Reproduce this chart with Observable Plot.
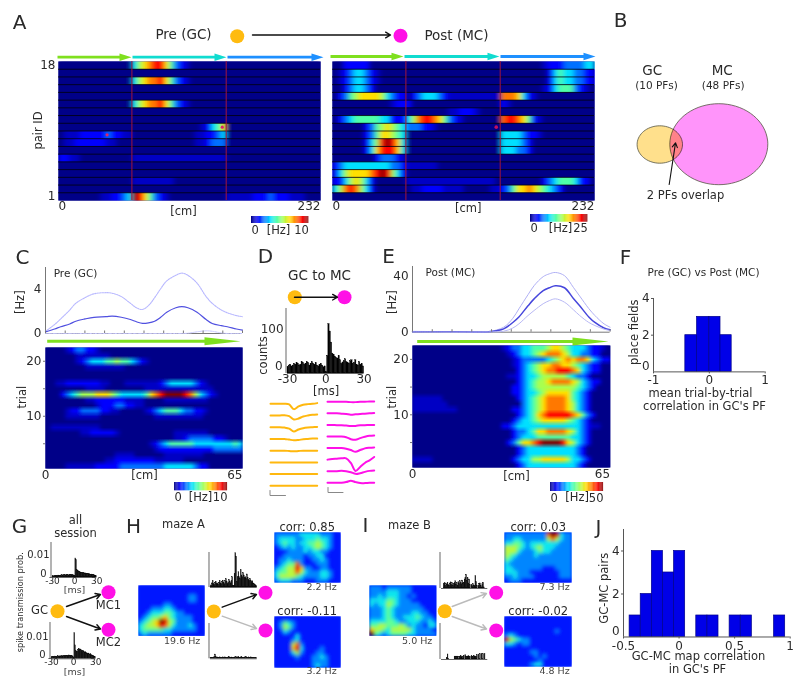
<!DOCTYPE html>
<html><head><meta charset="utf-8">
<script src="https://cdn.jsdelivr.net/npm/d3@7"></script>
<script src="https://cdn.jsdelivr.net/npm/@observablehq/plot@0.6"></script>
<style>
html,body{margin:0;padding:0;background:#fff}
#fig{position:relative;width:800px;height:686px;overflow:hidden;font-family:"DejaVu Sans",sans-serif}
#fig svg{position:absolute;background:transparent;overflow:visible;max-width:none}
#fig svg image{image-rendering:auto}
</style></head><body>
<svg width="0" height="0" style="position:absolute"><defs>
<filter id="softX" x="0" y="0" width="1" height="1"><feGaussianBlur stdDeviation="2.2 0" edgeMode="duplicate"/></filter>
<filter id="softT" x="0" y="0" width="1" height="1"><feGaussianBlur stdDeviation="1.8 .7" edgeMode="duplicate"/></filter>
<filter id="softM" x="0" y="0" width="1" height="1"><feGaussianBlur stdDeviation="1.6 1.5" edgeMode="duplicate"/></filter>
</defs></svg>
<div id="fig"></div>
<script>
// ---------- heat-map data: each row is [startBin,"levels",...]; '.'=0, '0'=half a level, 1-9 levels of the jet bar
const pairIdsPre = [
 [14,"35678864210"],[],[14,"35677864210"],[],[],[14,"35677864210"],[],[],
 [27,"01346"],[1,"0001111121100",26,"001123"],[1,"0011111100",26,"001222"],[],
 [0,"1100",14,"000000000000000000"],[],[],[14,"00000000"],[],
 [8,"001123",14,"986421",20,"0",32,"000001112111000"]];
const pairIdsPost = [
 [2,"11111",40,"0111222233"],[1,"01233210",41,"134332211"],[1,"01233210",41,"134332211"],
 [2,"123321",40,"013444210"],[1,"1245666653211",15,"1233321",22,"0000000000",32,"7776310"],
 [11,"0111",32,"10"],[22,"001110"],[1,"1234444433111",14,"35788764210",32,"78876410"],
 [6,"12456543222110"],[6,"12466543",32,"33332110"],[6,"13589863",32,"333321"],[6,"13688863",32,"333221"],
 [8,"122210"],[0,"12333333333221",14,"000000"],[0,"13566667898531"],
 [0,"11356531",14,"00000000000000000",40,"123444311"],[0,"35787531",15,"0011110000",30,"00",32,"124667654321"],[]];
const trialsPre = [
 [4,"0122110"],[6,"0000000"],[6,"012333445443210"],[8,"00000000"],[],[],
 [2,"00111111100",16,"0000000",23,"1233333210"],[8,"0000",20,"00000000000000"],
 [3,"12345556665433333467899998753210"],[8,"001111110000",24,"000000000"],[10,"0111221100"],
 [4,"01122221100",20,"0123444322110"],[4,"0000000",22,"0000000000"],[],[1,"0000000000"],
 [7,"00111110",26,"0000000"],[26,"00122222110"],[21,"0123444443333333343"],[22,"011111111111222222"],
 [14,"0000",24,"00000000"],[12,"0011111111000000"],[4,"00000011111222222222333333211"]];
const trialsPost = [
 [18,"012233444566543332110"],[19,"0123345677765332211"],[20,"01222223456767763211"],[20,"012345667766543211"],
 [21,"12345677888763211"],[19,"00123345555543221"],[21,"12345567777653211"],[20,"11234555555554321"],
 [20,"1123345666664321"],[0,"000000",21,"123456777764321"],[0,"0000000",22,"23456777765321"],
 [0,"000000000",20,"1123456777765321"],[21,"1234678888876421"],[20,"1233456666654321"],[18,"11233333333333332100"],
 [20,"1223466777765321"],[20,"1233344444443321"],[19,"12466789999865321"],[21,"12333333333321"],[21,"12333333333321"],
 [0,"0000",20,"1233556666653321"],[21,"12333333333321"]];
// place-field maps, 16 x 12 cells, jet levels
const mapA = ["1111111111111111","1111111111111111","1111111111112211","1111111111112211","1111112211111111","1112223321111111","1123334432211111","1234456432222111","2345698542222111","3455687532223211","3444443322222211","2322222211111111"];
const mapAMC1 = ["2222223333322211","2333322333433211","2343323344543211","1232322334543211","1112222323322111","1122222122331111","1223222112232111","1234472111222111","2345586221122111","3445575322233211","3555543222233211","2333222111222111"];
const mapAMC2 = ["1111111111111111","1243211111111111","1254211111111111","1132111111111111","1111131111111111","1111231111111111","1111572111111111","1111683111121111","1111352111221111","1111121112232111","1111111112222111","1111111112322111"];
const mapB = ["2221222222111111","2222333222111111","2232333221211111","3333443222111111","3233543222221111","2223432222222111","2223432222332211","2223432233343221","3333443223332232","4455444542322133","6554355555322221","9432344443322222"];
const mapBMC1 = ["2222222222798322","2233222222575322","3344323333333222","5554323453332222","5553222343322222","5432222322222222","4322222222222222","3222222222222222","3322222221112222","3332221111111222","2232222111111222","1222111111111111"];
const mapBMC2 = ["1111111111111111","1111111111111111","1111111111111111","1111111111112111","2321111111111111","8543221111111111","3321221111111111","1111111111111111","1111112211111111","1111111212111111","1111111121111111","1111112331111111"];
// mean firing rate curves
const cmC = [0,3,5,8,10,13,16,20,22,25,28,30,32,34,36,38,40,43,45,47,50,53,55,58,60,63,65];
const preMean = [.15,.4,.6,.85,1.1,1.3,1.45,1.5,1.55,1.45,1.25,1.05,.9,.95,1.1,1.45,1.9,2.3,2.4,2.3,1.9,1.25,.9,.7,.6,.4,.3];
const preUpper = [.2,.8,1.3,2.1,2.7,3.2,3.55,3.65,3.6,3.3,2.7,2.3,2.15,2.5,3.2,4,4.7,5.2,5.4,5.2,4.5,3.3,2.7,2.1,1.85,1.6,1.5];
const preLower = [0,0,0,0,0,0,0,0,0,0,0,0,0,0,0,0,0,0,0,.02,.15,.24,.2,.05,0,0,0];
const cmE = [0,10,20,25,30,33,35,38,40,43,45,47,50,53,55,58,60,63,65];
const postMean = [.4,.3,.2,.3,2.4,7,11,19,24,30,32,33.5,32,24,19,11,7,3,1.7];
const postUpper = [.6,.4,.3,.4,3.6,10,16.8,27,33.5,40,42,43,40.7,32,26,17,12,6,3.6];
const postLower = [.2,.1,.1,.2,.7,3,6,12,15.6,20.5,22.7,24,21.6,16,12,7,4.8,2.2,1.2];
// cross-correlograms, 60 one-ms bins from -30 to 30
const ccgD = [14,18,20,16,18,22,20,24,22,18,20,26,24,20,22,26,24,18,22,26,22,20,24,18,16,20,22,18,14,16,4,40,112,95,70,45,42,38,35,34,40,30,22,25,28,32,26,24,22,28,30,22,24,30,20,18,26,20,22,16];
const ccgMC1 = [.0004,.0006,.0005,.0007,.0006,.0008,.0006,.0007,.0009,.0008,.0007,.0009,.0008,.001,.0009,.0008,.001,.0011,.0009,.001,.0012,.001,.0009,.0011,.001,.0012,.0011,.0009,.001,.0008,.0008,.0085,.0078,.0035,.003,.0028,.0025,.0024,.0022,.002,.0021,.002,.0018,.0019,.0017,.0018,.0016,.0017,.0015,.0014,.0015,.0013,.0012,.0013,.0012,.001,.0011,.0009,.0008,.0006];
const ccgMC2 = [.0006,.0007,.0009,.0008,.0007,.001,.0009,.0008,.001,.0011,.0009,.001,.0012,.001,.0011,.0012,.001,.0013,.0012,.0011,.0013,.0014,.0012,.0013,.0015,.0012,.0014,.0013,.0012,.001,.0005,.0115,.006,.0035,.003,.0032,.0038,.0045,.004,.0042,.0038,.0035,.0032,.0036,.003,.0028,.003,.0026,.0024,.0022,.0024,.002,.0018,.002,.0016,.0015,.0013,.0012,.001,.0008];
const ccgA1 = [.02,.06,.12,.18,.1,.08,.14,.16,.1,.12,.08,.14,.18,.12,.1,.16,.2,.14,.1,.18,.24,.16,.1,.14,.22,.16,.12,.2,.3,.05,.05,.4,1,.9,.15,.3,.45,.3,.25,.5,.35,.3,.42,.35,.28,.3,.25,.38,.28,.22,.2,.25,.18,.15,.18,.12,.1,.08,.06,.04];
const ccgA2 = [.02,.03,.03,.02,.03,.06,.12,.05,.03,.04,.03,.03,.04,.03,.02,.03,.04,.03,.03,.04,.03,.02,.03,.04,.05,.03,.03,.04,.03,.02,.03,.04,.03,.05,.03,.04,.06,.03,.03,.04,.05,.03,.02,.03,.04,.03,.05,.03,.02,.04,.03,.03,.04,.03,.02,.03,.02,.02,.03,.02];
const ccgB1 = [0,0,0,.12,.15,.08,.14,.1,.16,.1,.08,.14,.17,.1,.15,.07,.12,.15,.2,.1,.16,.08,.18,.12,.2,.15,.12,.22,.14,.16,.25,.3,.38,.2,.3,.14,.25,.1,0,.1,.06,.12,.08,.06,.35,.18,.08,0,.08,.12,.14,.08,.03,.12,.16,.03,0,0,0,0];
const ccgB2 = [0,0,0,0,0,0,0,.04,.14,.02,0,0,0,0,0,0,0,.08,.08,.08,.08,.08,0,.06,.08,.1,.08,.04,.08,.1,0,.12,.06,.08,.08,.1,.06,.08,0,.1,.08,.08,.1,.08,.06,.08,.12,0,.14,0,.15,0,.15,0,.15,0,.15,0,0,0];
// histograms
const edgesF = [-.43,-.22,0,.2,.4];
const countsF = [2,3,3,2];
const startsJ = [-.445,-.345,-.245,-.145,-.045,.155,.255,.455,.555,.855];
const countsJ = [1,2,4,3,4,1,1,1,1,1];
// spike waveforms (offset below baseline)
const waveGC = [[0,0,0,0,2,16,8,3,1,0,-2],[0,0,0,-1,2,12,9,3,0,-2,-3],[0,0,0,1,4,13,7,3,1,0,-1],[0,0,0,0,2,4,3,1,0,-1,-1],[0,0,0,0,1,2,1,0,0,0,0],[0,0,0,0,0,0,0,0,0,0,0],[0,0,0,0,0,0,0,0,0,0,0],[0,0,0,0,0,0,0,0,0,0,0]];
const waveMC = [[0,0,0,0,0,1,1,0,0,-1,-1],[0,0,0,1,2,4,3,2,1,0,-1],[0,0,1,1,2,3,3,1,1,0,0],[0,0,0,0,2,8,10,5,1,-2,-3],[0,0,0,0,2,6,11,6,1,-1,-2],[0,-2,-3,-4,-4,10,34,22,10,2,-8],[0,0,0,-1,0,3,8,6,2,-1,-2],[0,0,0,0,-2,-6,-2,1,1,0,0]];

// ---------- helpers
const fig = document.getElementById("fig");
const M = 40, FONT = '"DejaVu Sans",sans-serif', INK = "#2a2a2a";
const JET_T = [0,1/9,2/9,3/9,4/9,5/9,6/9,7/9,8/9,1];
const JET_C = ["#000088","#0000ff","#0070ff","#00e0ff","#50ffa8","#a8ff50","#ffe000","#ff7800","#ff0000","#800000"];
const jet = max => ({type:"linear",domain:JET_T.map(t=>t*max),range:JET_C});
const lev = c => c==="." ? 0 : c==="0" ? .5 : +c;
function expand(spec,n){const a=new Array(n).fill(0);for(let i=0;i<spec.length;i+=2){[...spec[i+1]].forEach((c,j)=>{if(spec[i]+j<n)a[spec[i]+j]=lev(c)})}return a}
function panel(x,y,w,h,o,soft){
  const p = Plot.plot({width:w+2*M,height:h+2*M,margin:M,style:{fontFamily:FONT,color:INK},...o});
  p.style.left=(x-M)+"px";p.style.top=(y-M)+"px";
  if(soft)p.querySelectorAll("image").forEach(im=>im.style.filter=`url(#${soft})`);
  fig.append(p);return p;
}
const ax = (o)=>({label:null,tickSize:0,tickPadding:1,fontSize:12,...o});
function stripHeat(rows,x,w,maxHz,xMax,lines){
  const n=50,N=rows.length;
  panel(x,61,w,139,{
    x:{domain:[0,xMax],axis:null},y:{domain:[.5,N+.5],axis:null},color:jet(maxHz),
    marks:[
      Plot.frame({fill:"#000088",stroke:"none"}),
      ...rows.map((r,i)=>Plot.raster(expand(r,n).map(v=>v/9*maxHz),{width:n,height:1,x1:0,x2:xMax,y1:N-i+.5,y2:N-i-.5,fill:d=>d,imageRendering:"auto"})),
      Plot.ruleY(d3.range(1,N).map(k=>k+.5),{stroke:"#000",strokeWidth:.75}),
      Plot.ruleX(lines,{stroke:"#a0143c",strokeWidth:1}),
      Plot.axisX(ax({ticks:[0],textAnchor:"start"})),
      Plot.axisX(ax({ticks:[xMax],textAnchor:"end"}))
    ]},"softX");
}
function trialHeat(rows,x,y,w,h,maxHz){
  const n=40,N=rows.length,vals=rows.flatMap(r=>expand(r,n).map(v=>v/9*maxHz));
  panel(x,y,w,h,{
    x:{domain:[0,65],axis:null},y:{domain:[.5,N+.5],axis:null},color:jet(maxHz),
    marks:[
      Plot.frame({fill:"#000088",stroke:"none"}),
      Plot.raster(vals,{width:n,height:N,x1:0,x2:65,y1:N+.5,y2:.5,fill:d=>d,imageRendering:"auto"}),
      Plot.axisY(ax({ticks:[5,10,15,20],tickSize:2,tickPadding:2,tickFormat:d=>d%10?"":d,stroke:"#777"})),
      Plot.axisX(ax({ticks:[0],tickPadding:2})),
      Plot.axisX(ax({ticks:[65],textAnchor:"end",tickPadding:2}))
    ]},"softT");
}
function bar(x,y,w,h,max){
  const s=max/64;
  panel(x,y,w,h,{x:{domain:[0,max],axis:null},y:{axis:null},color:jet(max),marks:[
    Plot.rect(d3.range(0,max-s/2,s),{x1:d=>d,x2:d=>d+s*1.1,fill:d=>d}),
    Plot.axisX(ax({ticks:[0],textAnchor:"start",tickPadding:2,fontSize:11.5})),
    Plot.axisX(ax({ticks:[max],textAnchor:"end",tickPadding:2,fontSize:11.5}))
  ]});
}
function map(rows,x,y,w,h){
  panel(x,y,w,h,{x:{domain:[0,16],axis:null},y:{domain:[0,12],axis:null},color:jet(9),marks:[
    Plot.frame({fill:"#0020ff",stroke:"none"}),
    Plot.raster(rows.flatMap(r=>[...r].map(c=>+c+.2)),{width:16,height:12,x1:0,x2:16,y1:12,y2:0,fill:d=>d,imageRendering:"auto"})
  ]},"softM");
}
function ccg(vals,x,y,w,h,yMax,extra=[]){
  panel(x,y,w,h,{x:{domain:[-30,30],axis:null},y:{domain:[0,yMax],axis:null},marks:[
    Plot.rectY(vals,{x1:(d,i)=>i-30,x2:(d,i)=>i-29,y:d=>d,fill:"#000",stroke:"#000",strokeWidth:.3}),
    Plot.ruleX([-30],{dx:-1.5,stroke:"#666"}),
    Plot.ruleY([0],{stroke:"#666"}),
    ...extra
  ]});
}
function rates(cm,series,x,y,w,h,yMax,yTicks,yFmt){
  panel(x,y,w,h,{x:{domain:[0,65],axis:null},y:{domain:[0,yMax],axis:null},marks:[
    Plot.ruleY([0],{stroke:"#777"}),Plot.ruleX([0],{stroke:"#777"}),
    ...series.map(s=>Plot.line(s.v,{x:(d,i)=>cm[i],y:d=>d,stroke:s.c,strokeWidth:s.w,strokeDasharray:s.d,curve:"catmull-rom"})),
    Plot.axisX({ticks:d3.range(0,66,6.5),tickSize:-2.5,tickFormat:()=>"",label:null,stroke:"#777"}),
    Plot.axisY({ticks:yTicks,tickFormat:yFmt,tickSize:0,tickPadding:4,label:null,fontSize:12})
  ]});
}
const plain = d => String(d);
function hist(x,y,w,h,xd,yd,bars,xt,yt){
  panel(x,y,w,h,{x:{domain:xd,axis:null},y:{domain:yd,axis:null},marks:[
    Plot.rectY(bars,{x1:"a",x2:"b",y:"c",fill:"#0000e8",stroke:"#00008a",strokeWidth:.7}),
    Plot.ruleX([xd[0]],{stroke:"#555"}),Plot.ruleY([0],{stroke:"#555"}),
    Plot.axisX({ticks:xt,tickFormat:plain,tickSize:2,tickPadding:2,label:null,fontSize:12,stroke:"#555"}),
    Plot.axisY({ticks:yt.slice(1),tickFormat:plain,tickSize:2,tickPadding:2,label:null,fontSize:12,stroke:"#555"}),
    Plot.axisY({ticks:[0],tickFormat:plain,tickSize:0,tickPadding:4,dy:-6,label:null,fontSize:12})
  ]});
}

// ---------- panels
stripHeat(pairIdsPre,58,262,10,232,[65,148.5]);
stripHeat(pairIdsPost,332,262,25,232,[65,148.5]);
panel(58,61,262,139,{x:{domain:[0,232],axis:null},y:{domain:[.5,18.5],axis:null},marks:[
  Plot.axisY(ax({ticks:[1,18],tickPadding:3})),
  Plot.dot([{x:43,y:9},{x:145,y:10}],{x:"x",y:"y",r:1.6,fill:"#e0206a"})]});
panel(332,61,262,139,{x:{domain:[0,232],axis:null},y:{domain:[.5,18.5],axis:null},marks:[
  Plot.dot([{x:145,y:10}],{x:"x",y:"y",r:1.8,fill:"#c01060"})]});
bar(250.7,215.7,57.3,7,10);
bar(529.7,214,57.3,7.7,25);

rates(cmC,[{v:preUpper,c:"#b8b8ff",w:1.1,d:"1.5,1"},{v:preMean,c:"#5050e0",w:1.2},{v:preLower,c:"#c8c8ff",w:1,d:"1.5,1"}],45,267,197,66,5.9,[0,2,4],d=>d===2?"":d);
trialHeat(trialsPre,45,347,197,121,10);
bar(174.3,481.7,53,8.3,10);

rates(cmE,[{v:postUpper,c:"#b0b0f4",w:1},{v:postMean,c:"#4646dc",w:1.5},{v:postLower,c:"#b8b8f4",w:1}],411.7,266,197.6,65.7,47.3,[0,20,40],d=>d===20?"":d);
trialHeat(trialsPost,411.7,345,197.6,122,50);
bar(550.3,481.7,53,9,50);

ccg(ccgD,286.7,308.3,76.6,65,147,[
  Plot.axisX({ticks:[-30,0,30],tickFormat:plain,tickSize:0,tickPadding:1,label:null,fontSize:12}),
  Plot.axisY({ticks:[100],tickSize:0,tickPadding:4,label:null,fontSize:12}),
  Plot.axisY({ticks:[0],tickFormat:plain,tickSize:0,tickPadding:5,dy:-7,label:null,fontSize:12})]);
// waveforms
const traces = (w,group)=>w.flatMap((t,k)=>t.map((v,i)=>({i,k,group,v})));
panel(270,398,46.7,100,{x:{domain:[0,10],axis:null},y:{domain:[100,0],axis:null},marks:[
  Plot.line(traces(waveGC,"GC"),{x:"i",y:d=>5.3+d.k*11.72+d.v/3,z:"k",stroke:"#ffb80e",strokeWidth:2,curve:"catmull-rom"})]});
panel(326.7,398,46.7,100,{x:{domain:[0,10],axis:null},y:{domain:[100,0],axis:null},marks:[
  Plot.line(traces(waveMC,"MC"),{x:"i",y:d=>3.3+d.k*11.57+d.v/3,z:"k",stroke:"#ff10e8",strokeWidth:2,curve:"catmull-rom"})]});

hist(653.3,298.3,111.7,73.4,[-1,1],[0,4],countsF.map((c,i)=>({a:edgesF[i],b:edgesF[i+1],c})),[-1,0,1],[0,2,4]);
hist(623.3,528.5,166.7,107.5,[-.5,1],[0,5],countsJ.map((c,i)=>({a:startsJ[i],b:startsJ[i]+.1,c})),[-.5,0,.5,1],[0,2,4]);

const ccgTicks=[Plot.axisX({ticks:[-30,0,30],tickFormat:plain,tickSize:0,tickPadding:0,label:null,fontSize:9})];
const probAxis=[Plot.axisY({ticks:[.01],tickFormat:()=>"0.01",tickSize:0,tickPadding:3,label:null,fontSize:10}),
  Plot.axisY({ticks:[0],tickFormat:()=>"0",tickSize:0,tickPadding:6,dy:-4,label:null,fontSize:10})];
ccg(ccgMC1,51.7,541.7,44.3,35,.0156,[...ccgTicks,...probAxis]);
ccg(ccgMC2,50.5,622,44.3,36.3,.0162,[...ccgTicks,...probAxis]);
ccg(ccgA1,210,551.7,46.7,35,1.02);
ccg(ccgA2,210,623,46.7,35.3,1);
ccg(ccgB1,441,551.7,46.3,36,1);
ccg(ccgB2,441,623,46.3,36,1);

map(mapA,138,584.7,66,50.3);
map(mapAMC1,274,532,66,50);
map(mapAMC2,274,616,66,51);
map(mapB,369,584.7,66.7,50.3);
map(mapBMC1,504,532,67,50);
map(mapBMC2,504,616,67,50);

// ---------- schematic overlay: labels, nodes and arrows share a page-sized frame
const ORANGE="#ffbb10",MAGENTA="#ff10e6";
const T=(rows,size,o={})=>Plot.text(rows,{x:d=>d[1],y:d=>d[2],text:d=>d[0],rotate:d=>d[3]||0,fontSize:size,fill:INK,fontFamily:FONT,...o});
const lettersRows=[["A",19,22],["B",620,20],["C",22,257],["D",265,256],["E",388,256],["F",625,257],["G",19,526],["H",133,526],["I",365,525],["J",598,527]];
const big=[["Pre (GC)",183,34],["Post (MC)",456,35],["GC to MC",319,275],["GC",651.7,70],["MC",721.7,70]];
const mid=[["pair ID",38,130,-90],["[cm]",183,210.7],["[cm]",467.7,208],["[Hz]",278,230],["[Hz]",560,228],["[Hz]",20,301.7,-90],["trial",21.7,396.7,-90],
 ["[cm]",144,474.5],["[Hz]",200,497],["[Hz]",391.7,301.7,-90],["trial",392,396.7,-90],["[cm]",516,476],["[Hz]",576.7,497],
 ["counts",263,355,-90],["[ms]",325.7,391],["place fields",634,331.7,-90],["mean trial-by-trial",700,392.7],["correlation in GC's PF",704,405.7],
 ["all",75,520],["session",75,532.7],["GC",39,610],["MC1",108,604.5],["MC2",108,641.7],["maze A",183,524],["maze B",409,525],
 ["corr: 0.85",306.7,526.7],["corr: -0.11",306.7,610.7],["corr: 0.03",537.7,526.7],["corr: -0.02",537.7,610.7],
 ["GC-MC pairs",604.3,587.7,-90],["GC-MC map correlation",698,656],["in GC's PF",697,669],["2 PFs overlap",685,195.3]];
const small=[["(10 PFs)",656,85],["(48 PFs)",722.7,85],["Pre (GC)",75,273],["Post (MC)",450,271.7],["Pre (GC) vs Post (MC)",703,271.7]];
const tiny=[["19.6 Hz",181.7,640.7],["2.2 Hz",321,586.7],["3.2 Hz",321,670.7],["5.0 Hz",416.7,640.7],["7.3 Hz",554,586.7],["4.8 Hz",554,670.7],["[ms]",74,589.5],["[ms]",74,671]];
const ellipse=(cx,cy,rx,ry)=>d3.range(0,72).map(i=>({x:cx+rx*Math.cos(i*Math.PI/36),y:cy+ry*Math.sin(i*Math.PI/36)}));
const polyArrow=(x0,xh,xe,y,t,hw,c)=>Plot.line([[x0,y-t],[xh,y-t],[xh,y-hw],[xe,y],[xh,y+hw],[xh,y+t],[x0,y+t]],{x:d=>d[0],y:d=>d[1],fill:c,stroke:"none",curve:"linear-closed"});
const G="#7fe01e",CY="#10dcd0",BL="#1e90ff";
const trackSegs=[[57,131,56.7,G],[132,226,56.7,CY],[227,323,56.7,BL],[330,403,56,G],[404,499,56,CY],[500,595,56,BL]];
const nodesO=[[236.7,35.7],[294.3,296.7],[57,610.7],[213.3,611],[444.3,610.7]];
const nodesM=[[400,35.3],[344,296.7],[108,591.7],[108,629.3],[265,592.3],[265,630],[495.7,592.3],[495.7,630]];
const darkArrows=[[252,34.5,390,34.5],[294,296.7,337,296.7],[66,606,100,594],[66,616,100,628.5],[221.7,606.7,256,594]];
const greyArrows=[[221.7,615.7,256,628],[451.7,606,486,593],[451.7,616,486,628.5]];
const scaleBars=[[[269.5,490],[269.5,495],[285,495]],[[327.5,487],[327.5,492],[342.5,492]]];
const overlay=Plot.plot({width:800,height:686,margin:0,x:{domain:[0,800],range:[0,800],axis:null},y:{domain:[0,686],range:[0,686],axis:null},style:{fontFamily:FONT},marks:[
  ...trackSegs.map(s=>polyArrow(s[0],s[1]-12,s[1],s[2],1.4,3.8,s[3])),
  polyArrow(46.7,204,240,340.7,1.5,4,G),polyArrow(416.7,572,608,341,1.5,4,G),
  Plot.line(ellipse(718.3,143.7,49,40.5),{x:"x",y:"y",fill:"#ff94fa",stroke:"#554",strokeWidth:.8,curve:"linear-closed"}),
  Plot.line(ellipse(659.3,144,22.7,18.7),{x:"x",y:"y",fill:"#ffe08c",stroke:"#554",strokeWidth:.8,curve:"linear-closed",mixBlendMode:"multiply"}),
  Plot.arrow([[668.7,184,675,142.3]],{x1:d=>d[0],y1:d=>d[1],x2:d=>d[2],y2:d=>d[3],stroke:"#111",strokeWidth:1.1,headLength:7}),
  Plot.dot(nodesO,{x:d=>d[0],y:d=>d[1],r:7,fill:ORANGE}),
  Plot.dot(nodesM,{x:d=>d[0],y:d=>d[1],r:7,fill:MAGENTA}),
  Plot.arrow(darkArrows,{x1:d=>d[0],y1:d=>d[1],x2:d=>d[2],y2:d=>d[3],stroke:"#111",strokeWidth:1.4,headLength:6}),
  Plot.arrow(greyArrows,{x1:d=>d[0],y1:d=>d[1],x2:d=>d[2],y2:d=>d[3],stroke:"#bbb",strokeWidth:1.4,headLength:6}),
  ...scaleBars.map(b=>Plot.line(b,{x:d=>d[0],y:d=>d[1],stroke:"#888",strokeWidth:1})),
  T(lettersRows,20),T(big,13.5),T(mid,11.5),T(small,10.5),T(tiny,9.5,{fill:"#444"}),
  T([["spike transmission prob.",20,601.7,-90]],8.2)
]});
overlay.style.left="0";overlay.style.top="0";fig.append(overlay);
</script></body></html>
